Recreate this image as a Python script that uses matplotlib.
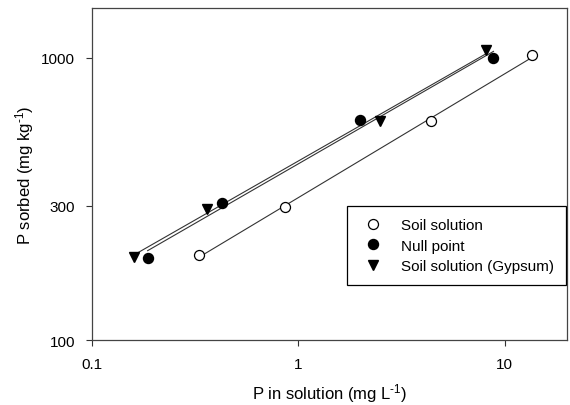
import numpy as np
import matplotlib
matplotlib.use('Agg')
import matplotlib.pyplot as plt
from matplotlib.ticker import FixedLocator, FixedFormatter, NullLocator

plt.rcParams['font.family'] = ['Liberation Sans', 'DejaVu Sans']
plt.rcParams['mathtext.fontset'] = 'custom'
plt.rcParams['mathtext.rm'] = 'Liberation Sans'
plt.rcParams['mathtext.it'] = 'Liberation Sans:italic'

# Data
soilX = [0.33, 0.864, 4.39, 13.5]
soilY = [200, 297, 600, 1019]
nullX = [0.186, 0.425, 1.98, 8.81]
nullY = [196, 306, 604, 1000]
gypX = [0.160, 0.36, 2.49, 8.09]
gypY = [198, 293, 598, 1064]

xTicks = [0.1, 1, 10]
xTickLabels = ['0.1', '1', '10']
yTicks = [100, 300, 1000]
yTickLabels = ['100', '300', '1000']

fig = plt.figure(figsize=(5.7, 4.06), dpi=100)
ax = fig.add_axes([0.1614, 0.1589, 0.8333, 0.8189])
ax.set_xscale('log')
ax.set_yscale('log')

lineColor = '#333333'

def fitLine(xs, ys):
    # power-law fit drawn between first and last point
    coef = np.polyfit(np.log10(xs), np.log10(ys), 1)
    lx = np.array([min(xs), max(xs)])
    ly = 10 ** np.polyval(coef, np.log10(lx))
    ax.plot(lx, ly, color=lineColor, lw=0.8, zorder=2)

fitLine(soilX, soilY)
fitLine(nullX, nullY)
fitLine(gypX, gypY)

ax.plot(soilX, soilY, 'o', ms=7.2, mfc='white', mec='black', mew=0.9, zorder=3, label='Soil solution')
ax.plot(nullX, nullY, 'o', ms=7.2, mfc='black', mec='black', zorder=3, label='Null point')
ax.plot(gypX, gypY, 'v', ms=7.5, mfc='black', mec='black', zorder=3, label='Soil solution (Gypsum)')

ax.set_xlim(0.1, 20)
ax.set_ylim(100, 1500)

ax.xaxis.set_major_locator(FixedLocator(xTicks))
ax.xaxis.set_major_formatter(FixedFormatter(xTickLabels))
ax.xaxis.set_minor_locator(NullLocator())
ax.yaxis.set_major_locator(FixedLocator(yTicks))
ax.yaxis.set_major_formatter(FixedFormatter(yTickLabels))
ax.yaxis.set_minor_locator(NullLocator())

ax.tick_params(direction='out', length=4, width=0.8, colors='#333333', labelcolor='black',
               labelsize=11, top=False, right=False, pad=8)
for s in ax.spines.values():
    s.set_color('#444444')
    s.set_linewidth(0.9)

ax.set_xlabel(r'P in solution (mg L$^{\text{-1}}$)', fontsize=12, labelpad=7)
ax.set_ylabel(r'P sorbed (mg kg$^{\text{-1}}$)', fontsize=12, labelpad=4)

leg = ax.legend(loc='upper left', bbox_to_anchor=(0.537, 0.4045), borderaxespad=0,
                fontsize=11, frameon=True, fancybox=False, shadow=False,
                borderpad=0.8, handlelength=1.86, handletextpad=0.84, labelspacing=0.42)
leg.get_frame().set_edgecolor('black')
leg.get_frame().set_linewidth(0.9)
leg.get_frame().set_alpha(1)

plt.savefig('out.png', dpi=100)
plt.close()
